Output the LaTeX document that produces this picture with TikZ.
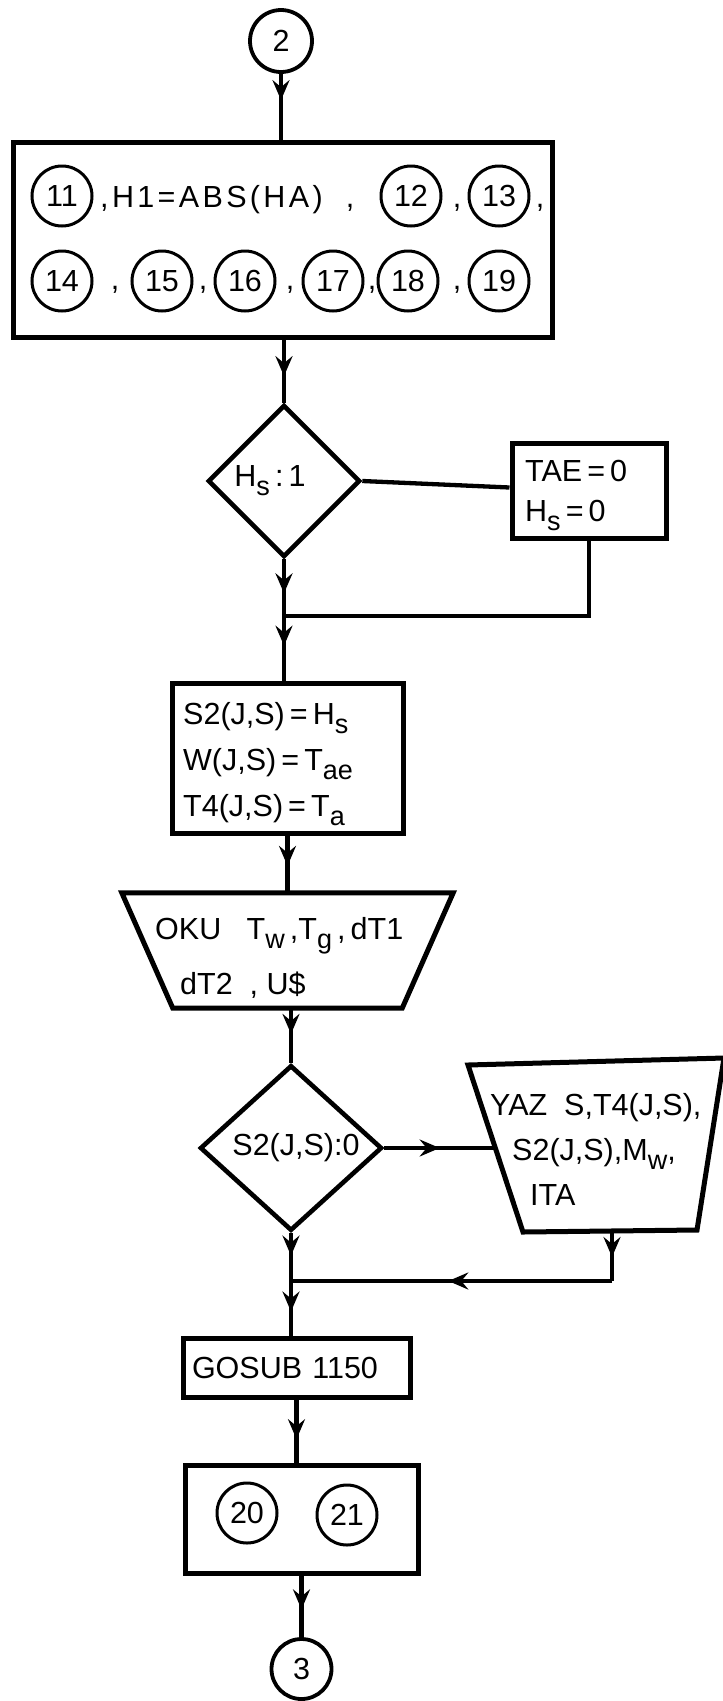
\documentclass[tikz,border=0pt]{standalone}
\usepackage{fontspec}
\setmainfont{Liberation Sans}
\usetikzlibrary{shapes.geometric,arrows.meta,decorations.markings,calc}
\newcommand\txtfont{\fontsize{30.5}{46}\selectfont}
\newcommand\sbs[1]{\raisebox{-9pt}{\fontsize{27}{27}\selectfont #1}}
\tikzset{
  ln/.style={line width=4.3pt},
  boxst/.style={draw, line width=5pt, inner sep=0pt},
  num/.style={draw, circle, line width=3pt, minimum size=60pt, inner sep=0pt, font=\txtfont},
  txt/.style={inner sep=0pt, font=\txtfont, anchor=north west, align=left},
  dec/.style={draw, diamond, line width=4.6pt, inner sep=0pt, font=\txtfont},
  midarrow/.style={postaction={decorate}, decoration={markings, mark=at position #1 with {\arrow{Stealth[length=20pt,width=17pt,inset=7pt]}}}},
}
\begin{document}
\begin{tikzpicture}[x=1pt,y=1pt]
\useasboundingbox (0,0) rectangle (723,-1701);
% top connector
\node[num, line width=3.8pt, minimum size=62pt] (c2) at (281,-41) {2};
\node[boxst, minimum width=539pt, minimum height=195pt] (b1) at (282.5,-239.5) {};
\draw[ln, midarrow=0.4] (c2) -- (c2 |- b1.north);
% row 1
\node[num] (n11) at (62,-196) {11};
\node[num] (n12) at (411,-196) {12};
\node[num] (n13) at (499,-196) {13};
\node[txt, anchor=base west] (t1) at (100,-207) {\addfontfeature{LetterSpace=11},H1=ABS(HA)};
\node[txt, anchor=base] (k1) at (350,-207) {,};
\node[txt, anchor=base] (k2) at (457,-207) {,};
\node[txt, anchor=base] (k3) at (540,-207) {,};
% row 2
\node[num] (n14) at (62,-281) {14};
\node[num] (n15) at (162,-281) {15};
\node[num] (n16) at (245,-281) {16};
\node[num] (n17) at (333,-281) {17};
\node[num] (n18) at (408,-281) {18};
\node[num] (n19) at (499,-281) {19};
\node[txt, anchor=base] (k4) at (115,-289) {,};
\node[txt, anchor=base] (k5) at (203,-289) {,};
\node[txt, anchor=base] (k6) at (290,-289) {,};
\node[txt, anchor=base] (k7) at (372,-289) {,};
\node[txt, anchor=base] (k8) at (457,-289) {,};
% decision 1
\node[dec, minimum width=152pt, minimum height=152pt] (d1) at (284,-481) {\hspace*{-28pt}H\sbs{s}\,:\,1};
\draw[ln, midarrow=0.58] (d1.north |- b1.south) -- (d1.north);
\node[boxst, minimum width=154pt, minimum height=95pt] (tae) at (589,-490.5) {};
\node[txt, font=\fontsize{30.5}{40}\selectfont] (taet) at (525,-460) {TAE\,=\,0\\H\sbs{s}\,=\,0};
\draw[ln] (d1.east) -- ([yshift=3pt]tae.west);
\coordinate (j1) at (284,-616);
\draw[ln] (tae.south) |- (j1);
\draw[ln, midarrow=0.6] (d1.south) -- (j1);
% S2 box
\node[boxst, minimum width=231pt, minimum height=150pt] (s2) at (287.5,-758) {};
\node[txt, font=\fontsize{30.5}{46}\selectfont] (s2t) at (183,-702) {S2(J,S)\,=\,H\sbs{s}\\W(J,S)\,=\,T\sbs{ae}\\T4(J,S)\,=\,T\sbs{a}};
\draw[ln, midarrow=0.46] (j1) -- (j1 |- s2.north);
% OKU trapezoid
\node[minimum width=331pt, minimum height=115pt, inner sep=0pt] (oku) at (287.5,-950.5) {};
\draw[line width=5pt, line join=miter] (oku.north west) -- (oku.north east) -- ([xshift=-51pt]oku.south east) -- ([xshift=51pt]oku.south west) -- cycle;
\node[txt, font=\fontsize{30.5}{55}\selectfont] (okut) at (155,-917) {OKU\ \ \ T\sbs{w}\,,T\sbs{g}\,,\,dT1\\\hspace*{25pt}dT2\ \ ,\ U\$};
\draw[ln, midarrow=0.53] (s2.south) -- (oku.north);
% decision 2
\node[dec, minimum width=182pt, minimum height=150pt] (d2) at (291,-1148) {\hspace*{10pt}S2(J,S):0};
\draw[ln, midarrow=0.47] (d2.north |- oku.south) -- (d2.north);
% YAZ trapezoid
\coordinate (ya) at (468,-1065);
\coordinate (yb) at (724,-1058);
\coordinate (yc) at (697,-1230);
\coordinate (yd) at (523,-1232);
\draw[line width=5pt, line join=miter] (ya) -- (yb) -- (yc) -- (yd) -- cycle;
\node[txt, font=\fontsize{30.5}{45}\selectfont] (yazt) at (490,-1093) {YAZ\ \ S,T4(J,S),\\\hspace*{22pt}S2(J,S),M\sbs{w},\\\hspace*{40pt}ITA};
\coordinate (yl) at (495,-1148);
\coordinate (ybot) at (612,-1231);
\draw[ln, midarrow=0.5] (d2.east) -- (yl);
\coordinate (yk) at (612,-1281);
\coordinate (j2) at (291,-1281);
\draw[ln, midarrow=0.52] (ybot) -- (yk);
\draw[ln, midarrow=0.51] (yk) -- (j2);
\draw[ln, midarrow=0.47] (d2.south) -- (j2);
% GOSUB
\node[boxst, minimum width=227pt, minimum height=59pt, text width=209pt, align=left, font=\txtfont] (gs) at (296.5,-1367.5) {GOSUB 1150};
\draw[ln, midarrow=0.56] (j2) -- (j2 |- gs.north);
% box 20 21
\node[boxst, minimum width=233pt, minimum height=108pt] (b2) at (301.5,-1519) {};
\node[num] (n20) at (247,-1513) {20};
\node[num] (n21) at (347,-1515) {21};
\draw[ln, midarrow=0.63] (gs.south) -- (gs.south |- b2.north);
\node[num, line width=3.8pt, minimum size=60pt] (c3) at (301.5,-1669) {3};
\draw[ln, midarrow=0.55] (b2.south) -- (c3.north);
\end{tikzpicture}
\end{document}
